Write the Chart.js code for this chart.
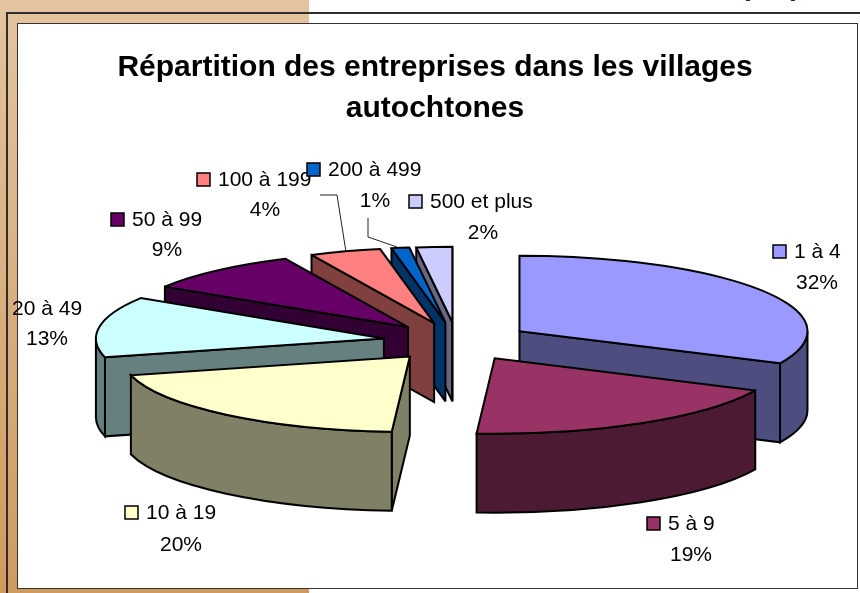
<!DOCTYPE html>
<html>
<head>
<meta charset="utf-8">
<title>Répartition des entreprises</title>
<script src="https://cdn.jsdelivr.net/npm/chart.js@4/dist/chart.umd.min.js"></script>
<style>
    html, body { margin: 0; padding: 0; background: #fff; }
    #page { position: relative; width: 860px; height: 593px; overflow: hidden; background: #fff; }
    #band { position: absolute; left: 0; top: 0; width: 309px; height: 593px; background: linear-gradient(180deg, #e3c49f 0%, #cf9a5e 100%); }
    #outer { position: absolute; left: 6px; top: 12px; width: 860px; height: 600px; border: 2px solid #2e2e2e; box-sizing: border-box; }
    #inner { position: absolute; left: 17px; top: 23px; width: 841px; height: 566px; background: #fff; border: 1px solid #333; box-sizing: border-box; }
    .scrap { position: absolute; top: -28px; font: bold 28px/28px "Liberation Sans", sans-serif; color: #222; }
    canvas { position: absolute; left: 0; top: 0; }
</style>
</head>
<body>
<div id="page">
    <div id="band"></div>
    <div class="scrap" style="left:744px">p</div>
    <div class="scrap" style="left:789px">p</div>
    <div id="outer"></div>
    <div id="inner"></div>
    <canvas id="pie" width="860" height="593"></canvas>
</div>
<script>
(function() {
    'use strict';

    var titleLines = ['Répartition des entreprises dans les villages', 'autochtones'];
    var categories = ['1 à 4', '5 à 9', '10 à 19', '20 à 49', '50 à 99', '100 à 199', '200 à 499', '500 et plus'];
    var shares = [32, 19, 20, 13, 9, 4, 1, 2];
    var topColors = ['#9999ff', '#993366', '#ffffcc', '#ccffff', '#660066', '#ff8080', '#0066cc', '#ccccff'];
    var wallColors = ['#4d4d80', '#4d1a33', '#808066', '#668080', '#330033', '#804040', '#003366', '#666680'];

    // where each label sits: key left, first line y, second line centre x, second line y
    // the 20 à 49 key falls off the picture in the original, so it is left out
    var labelPos = [
        [773, 251, 817, 282],
        [647, 523, 691, 554],
        [125, 512, 181, 544],
        [-9, 308, 47, 338],
        [111, 219, 167, 249],
        [197, 179, 265, 209],
        [307, 169, 375, 200],
        [409, 201, 483, 232]
    ];
    var leaders = [
        [[320, 195], [337, 195], [346, 252]],
        [[368, 218], [368, 237], [397, 247]]
    ];

    var PIE_X = 457, PIE_Y = 341.6, SQUASH = 0.262, DEPTH = 79, EXPLODE = 74;
    var FONT = '"Liberation Sans", Arial, sans-serif';

    // Outline of a face, stroked after the squash so the pen stays even
    function strokeFace(ctx, trace) {
        ctx.beginPath();
        trace();
        ctx.closePath();
        ctx.lineWidth = 2;
        ctx.strokeStyle = '#000';
        ctx.lineJoin = 'miter';
        ctx.miterLimit = 3;
        ctx.stroke();
    }

    function fillFace(ctx, color, trace) {
        ctx.beginPath();
        trace();
        ctx.closePath();
        ctx.fillStyle = color;
        ctx.fill();
        strokeFace(ctx, trace);
    }

    function drawSlice(ctx, arc, i) {
        var R = arc.outerRadius;
        var a = arc.startAngle, b = arc.endAngle, mid = (a + b) / 2;
        var tipX = PIE_X + Math.cos(mid) * EXPLODE;
        var tipY = PIE_Y + Math.sin(mid) * EXPLODE * SQUASH;
        function px(t) { return tipX + Math.cos(t) * R; }
        function py(t) { return tipY + Math.sin(t) * R * SQUASH; }
        function ellipse(from, to, dy, back) {
            ctx.ellipse(tipX, tipY + dy, R, R * SQUASH, 0, from, to, back);
        }
        function radialWall(t) {
            return function() {
                ctx.moveTo(tipX, tipY);
                ctx.lineTo(px(t), py(t));
                ctx.lineTo(px(t), py(t) + DEPTH);
                ctx.lineTo(tipX, tipY + DEPTH);
            };
        }

        // cut faces only show when they point at the viewer
        if (Math.cos(a) < 0) fillFace(ctx, wallColors[i], radialWall(a));
        if (Math.cos(b) > 0) fillFace(ctx, wallColors[i], radialWall(b));

        // rim: part of the arc on the near side of the pie
        var twoPi = Math.PI * 2;
        var s = ((a % twoPi) + twoPi) % twoPi;
        var e = s + (b - a);
        var from = Math.max(s, 0), to = Math.min(e, Math.PI);
        if (s > Math.PI) { from = Math.max(s, twoPi); to = Math.min(e, twoPi + Math.PI); }
        if (to > from) {
            fillFace(ctx, wallColors[i], function() {
                ellipse(from, to, 0, false);
                ellipse(to, from, DEPTH, true);
            });
        }

        // top face comes from the library's arc element
        ctx.save();
        ctx.translate(tipX, tipY);
        ctx.scale(1, SQUASH);
        ctx.translate(-arc.x, -arc.y);
        arc.draw(ctx);
        ctx.restore();
        strokeFace(ctx, function() {
            ctx.moveTo(tipX, tipY);
            ctx.lineTo(px(a), py(a));
            ellipse(a, b, 0, false);
        });
    }

    var pie3d = {
        id: 'pie3d',
        beforeDatasetDraw: function(chart, args) {
            var ctx = chart.ctx;
            var arcs = chart.getDatasetMeta(args.index).data;
            var order = arcs.map(function(arc, i) { return i; });
            order.sort(function(p, q) {
                return Math.sin((arcs[p].startAngle + arcs[p].endAngle) / 2) - Math.sin((arcs[q].startAngle + arcs[q].endAngle) / 2);
            });
            ctx.save();
            for (var k = 0; k < order.length; k++) drawSlice(ctx, arcs[order[k]], order[k]);
            ctx.restore();
            return false;
        },
        afterDatasetsDraw: function(chart) {
            var ctx = chart.ctx;
            ctx.save();
            ctx.strokeStyle = '#222';
            ctx.lineWidth = 1;
            for (var l = 0; l < leaders.length; l++) {
                ctx.beginPath();
                for (var p = 0; p < leaders[l].length; p++) {
                    if (p === 0) ctx.moveTo(leaders[l][p][0], leaders[l][p][1]);
                    else ctx.lineTo(leaders[l][p][0], leaders[l][p][1]);
                }
                ctx.stroke();
            }
            ctx.font = '21px ' + FONT;
            ctx.textBaseline = 'middle';
            for (var i = 0; i < categories.length; i++) {
                var pos = labelPos[i];
                if (pos[0] >= 0) {
                    ctx.fillStyle = topColors[i];
                    ctx.fillRect(pos[0], pos[1] - 6, 13, 13);
                    ctx.strokeStyle = '#000';
                    ctx.lineWidth = 1.5;
                    ctx.strokeRect(pos[0], pos[1] - 6, 13, 13);
                }
                ctx.fillStyle = '#000';
                ctx.textAlign = 'left';
                ctx.fillText(categories[i], pos[0] + 21, pos[1] + 1);
                ctx.textAlign = 'center';
                ctx.fillText(shares[i] + '%', pos[2], pos[3] + 1);
            }
            ctx.restore();
        }
    };

    new Chart(document.getElementById('pie'), {
        type: 'pie',
        data: {
            labels: categories,
            datasets: [{
                data: shares,
                backgroundColor: topColors,
                borderWidth: 0,
                radius: 288
            }]
        },
        options: {
            responsive: false,
            animation: false,
            layout: { padding: { left: 10 } },
            plugins: {
                legend: { display: false },
                tooltip: { enabled: false },
                title: {
                    display: true,
                    text: titleLines,
                    color: '#000',
                    font: { family: FONT, size: 30, weight: 'bold', lineHeight: 1.37 },
                    padding: { top: 47, bottom: 10 }
                }
            }
        },
        plugins: [pie3d]
    });
})();
</script>
</body>
</html>
